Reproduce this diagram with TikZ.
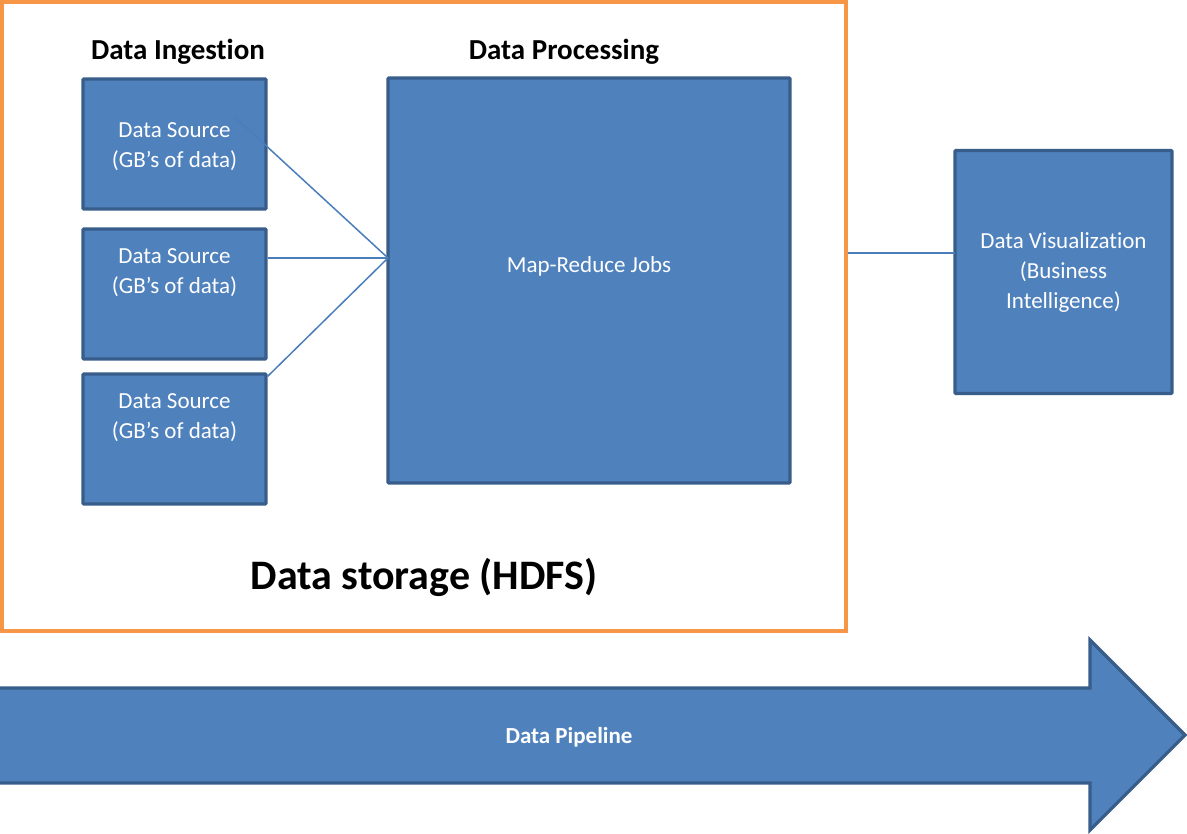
\documentclass[tikz,border=0pt]{standalone}
\usepackage{fontspec}
\setmainfont{Carlito}[Ligatures={NoCommon,NoRequired,NoContextual},Contextuals=NoAlternate]
\usepackage{tikz}
\usepackage{xcolor}
\usetikzlibrary{positioning,calc}
\definecolor{boxfill}{HTML}{4F81BD}
\definecolor{boxedge}{HTML}{385D8A}
\definecolor{linkblue}{HTML}{4A7EBB}
\definecolor{hdfsorange}{HTML}{F79646}
\tikzset{
  stagebox/.style={draw=boxedge,fill=boxfill,line width=3.2pt,rounded corners=1pt,
                   inner sep=0pt},
  boxtext/.style={text=white,align=center,inner sep=0pt,
                  font=\fontsize{23}{30}\selectfont},
  headtext/.style={text=black,inner sep=0pt,font=\fontsize{29}{34}\selectfont\bfseries},
  frame/.style={draw=hdfsorange,line width=3.2pt,inner sep=0pt},
  link/.style={draw=linkblue,line width=1.5pt},
  pipe/.style={draw=boxedge,fill=boxfill,line width=3.2pt,line join=miter}
}
\begin{document}
\begin{tikzpicture}[x=1pt,y=-1pt]
    \path[use as bounding box] (0,0) rectangle (1187,834);

    \node[frame,minimum width=844pt,minimum height=629pt] (hdfs) at (424,316.5) {};
    \node[headtext] (ingest) at (178,52) {Data Ingestion};
    \node[headtext] (process) at (564,52) {Data Processing};
    \node[headtext,font=\fontsize{42}{48}\selectfont\bfseries] (storage) at (424,577)
      {Data storage (HDFS)};

    \node[stagebox,minimum width=183pt,minimum height=130pt] (srcA) at (174.5,144) {};
    \node[stagebox,minimum width=183pt,minimum height=130pt] (srcB) at (174.5,294) {};
    \node[stagebox,minimum width=183pt,minimum height=130pt] (srcC) at (174.5,439) {};
    \node[boxtext] (srcAtxt) at ($(srcA.north)+(0,69)$) {Data Source\\(GB’s of data)};
    \node[boxtext] (srcBtxt) at ($(srcB.north)+(0,45)$) {Data Source\\(GB’s of data)};
    \node[boxtext] (srcCtxt) at ($(srcC.north)+(0,45)$) {Data Source\\(GB’s of data)};

    \node[stagebox,minimum width=402pt,minimum height=405pt] (mapred) at (589,280.5) {};
    \node[boxtext] (mapredtxt) at ($(mapred.north)+(0,190)$) {Map-Reduce Jobs};

    \node[stagebox,minimum width=217pt,minimum height=243pt,boxtext,text=white]
      (vis) at (1063.5,272) {Data Visualization\\(Business\\Intelligence)};

    \coordinate (tap) at (236,118);
    \coordinate (hub) at (388,258);
    \coordinate (vislink) at (955,253);
    \draw[link] (tap) -- (hub);
    \draw[link] (hub -| srcB.east) -- (hub);
    \draw[link] ($(srcC.north east)+(0,4)$) -- (hub);
    \draw[link] (vislink -| hdfs.east) -- (vislink);

    \draw[pipe] (-3,688) -- (1090,688) -- (1090,640) -- (1185,735)
      -- (1090,830) -- (1090,783) -- (-3,783) -- cycle;
    \node[boxtext,font=\fontsize{23}{27}\selectfont\bfseries] (pipeline) at (569,737)
      {Data Pipeline};
  \end{tikzpicture}
\end{document}
